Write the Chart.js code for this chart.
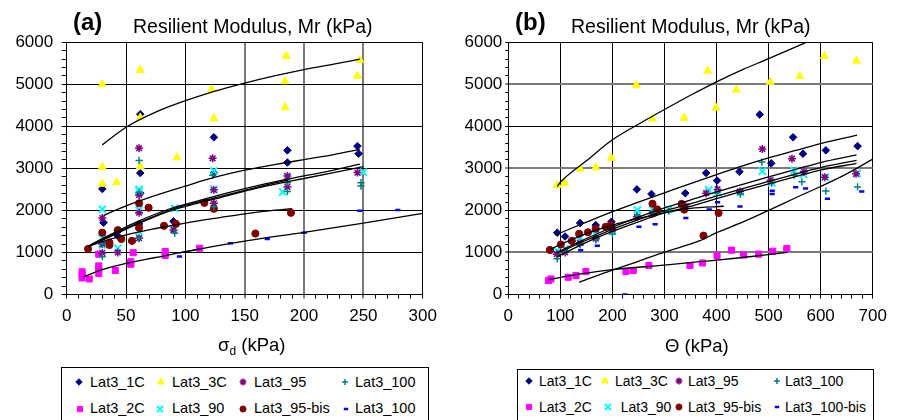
<!DOCTYPE html>
<html><head><meta charset="utf-8">
<script src="https://cdn.jsdelivr.net/npm/chart.js@4/dist/chart.umd.min.js"></script>
<style>
html,body{margin:0;padding:0;background:#fff;width:897px;height:420px;overflow:hidden;font-family:"Liberation Sans",Arial,sans-serif;color:#000}
#wrap{position:relative;width:897px;height:420px}
canvas.c{position:absolute;top:0}
.t{position:absolute;white-space:nowrap;line-height:1}
.lg{position:absolute;border:1px solid #000;background:#fff;box-sizing:border-box}
sub{font-size:12px;vertical-align:-4px;line-height:0}
</style>
</head><body><div id="wrap">
<canvas id="ca" class="c" width="450" height="360" style="left:0"></canvas>
<canvas id="cb" class="c" width="447" height="360" style="left:450px"></canvas>
<div class="t" style="left:73px;top:9.7px;font-size:24px;font-weight:bold">(a)</div>
<div class="t" style="left:133px;top:16.8px;font-size:19.5px">Resilient Modulus, Mr (kPa)</div>
<div class="t" style="left:515px;top:9.7px;font-size:24px;font-weight:bold">(b)</div>
<div class="t" style="left:571px;top:16.8px;font-size:19.5px">Resilient Modulus, Mr (kPa)</div>
<div class="t" style="left:218px;top:336px;font-size:18.5px">σ<sub>d</sub> (kPa)</div>
<div class="t" style="left:665px;top:337px;font-size:18.5px">Θ (kPa)</div>
<div class="lg" id="lga" style="left:61px;top:367px;width:368px;height:70px"></div>
<div class="lg" id="lgb" style="left:517px;top:369px;width:357px;height:70px"></div>
</div>
<script>
// ---------- series names ----------
const namesA = ['Lat3_1C','Lat3_2C','Lat3_3C','Lat3_90','Lat3_95','Lat3_95-bis','Lat3_100','Lat3_100'];
const namesB = ['Lat3_1C','Lat3_2C','Lat3_3C','Lat3_90','Lat3_95','Lat3_95-bis','Lat3_100','Lat3_100-bis'];

// ---------- panel (a): x = sigma_d (kPa), y = Mr (kPa) ----------
const a1C = [[30,2510],[31,1710],[43,1395],[61,1680],[62,4290],[62,2890],[62,2410],[90,1740],[124,3740],[124,2890],[186,3430],[186,3140],[245,3530],[246,3350]];
const a2C = [[13,540],[13,470],[13,395],[19,370],[27,960],[27,680],[27,600],[27,500],[41,570],[54,720],[54,780],[56,995],[83,1020],[83,930],[112,1100]];
const a3C = [[30,5000],[30,3030],[30,2630],[42,2670],[62,5340],[62,4210],[62,3040],[93,3260],[122,4880],[124,4190],[185,5670],[184,5070],[184,4450],[247,5580],[245,5200]];
const a90 = [[30,2030],[30,1340],[30,1180],[43,1100],[61,2500],[61,2460],[61,2010],[61,1500],[90,1560],[91,2050],[124,2940],[124,2500],[182,2440],[186,2800],[250,2910]];
const a95 = [[30,1820],[30,1200],[30,990],[43,1000],[61,3480],[61,2370],[61,1945],[61,1340],[90,1535],[123,3240],[124,2490],[124,2170],[186,2820],[186,2560],[245,2900]];
const a95bis = [[18,1085],[30,1470],[36,1235],[36,1180],[43,1530],[46,1320],[55,1275],[61,2170],[61,1590],[69,2065],[82,1635],[92,1680],[116,2180],[124,2040],[159,1450],[189,1945]];
const a100 = [[30,900],[30,1200],[61,3190],[61,2430],[61,1340],[91,1460],[123,2840],[124,2090],[186,2660],[186,2450],[248,2660],[248,2580]];
const a100b = [[95,905],[138,1220],[169,1320],[200,1470],[247,1990],[279,2010]];
// fitted curves (a)
const aFit1C = [[31,1880],[50,2110],[75,2360],[100,2580],[125,2790],[150,2960],[175,3090],[200,3210],[225,3330],[247,3450]];
const aFit2C = [[14,420],[30,590],[50,740],[75,880],[100,1020],[112,1080]];
const aFit3C = [[30,3560],[50,3980],[75,4340],[100,4610],[125,4840],[150,5030],[175,5200],[200,5350],[225,5480],[247,5600]];
const aFit90 = [[18,1140],[30,1290],[45,1490],[60,1680],[87,1990],[110,2170],[129,2300],[150,2460],[175,2620],[200,2760],[225,2900],[250,3040]];
const aFit95 = [[18,1150],[30,1330],[45,1540],[60,1740],[87,2040],[110,2220],[129,2370],[150,2520],[175,2680],[200,2820],[225,2960],[247,3100]];
const aFit95bis = [[18,1140],[30,1260],[50,1420],[75,1570],[100,1700],[129,1830],[150,1920],[170,1990],[190,2040]];
const aFit100 = [[20,1160],[30,1310],[45,1510],[60,1700],[87,2010],[110,2190],[129,2330],[150,2480],[170,2620],[187,2730]];
const aFit100b = [[95,990],[125,1150],[150,1270],[200,1480],[250,1700],[300,1930]];

// ---------- panel (b): x = Theta (kPa), y = Mr (kPa) ----------
const b1C = [[94,1470],[109,1380],[138,1700],[168,1650],[198,1730],[247,2500],[275,2390],[340,2410],[380,2890],[401,2710],[444,2920],[483,4280],[505,3120],[547,3740],[566,3350],[610,3430],[671,3530]];
const b2C = [[77,330],[82,370],[115,410],[130,450],[149,545],[226,545],[240,570],[270,690],[349,690],[373,750],[401,920],[429,1055],[452,940],[481,960],[508,1030],[535,1095]];
const b3C = [[94,2600],[108,2650],[138,2990],[168,3020],[198,3250],[246,4980],[277,4180],[338,4200],[383,5320],[399,4440],[438,4870],[503,5055],[560,5190],[607,5670],[669,5560]];
const b90 = [[94,1040],[109,1080],[138,1355],[168,1420],[200,1530],[248,2010],[277,2025],[308,2025],[385,2490],[402,2420],[446,2430],[488,2930],[506,2660],[549,2950],[567,2860],[609,2790],[670,2880]];
const b95 = [[93,960],[109,1000],[138,1220],[168,1330],[200,1550],[247,1850],[277,1920],[341,2100],[380,2410],[402,2500],[445,2450],[488,3460],[504,2720],[545,3230],[568,2920],[608,2790],[668,2870]];
const b95bis = [[80,1060],[101,1190],[122,1275],[136,1445],[153,1480],[168,1565],[187,1610],[197,1650],[277,2160],[286,2025],[333,2155],[338,2020],[375,1400],[404,1940]];
const b100 = [[94,850],[109,1040],[138,1180],[168,1300],[200,1440],[248,1880],[277,1950],[308,1980],[401,2420],[446,2390],[487,3150],[506,2650],[549,2840],[564,2680],[610,2460],[671,2560]];
const b100bis = [[139,1050],[171,1160],[224,0],[251,1610],[282,1670],[341,1820],[386,2025],[402,2195],[445,2095],[507,2470],[507,2390],[552,2550],[571,2520],[613,2280],[679,2450]];
// fitted curves (b)
const bFit1C = [[90,1415],[150,1720],[200,1970],[250,2200],[300,2420],[350,2640],[400,2850],[450,3060],[500,3250],[550,3420],[600,3590],[670,3790]];
const bFit2C = [[77,350],[100,410],[150,510],[200,590],[300,700],[368,780],[450,880],[536,1000]];
const bFit3C = [[94,2570],[100,2670],[150,3180],[200,3680],[250,4050],[300,4400],[350,4740],[400,5060],[450,5350],[500,5610],[572,6000]];
const bFit90 = [[94,980],[150,1290],[200,1550],[250,1780],[300,1990],[348,2150],[400,2340],[450,2520],[500,2690],[550,2860],[600,3020],[669,3190]];
const bFit95 = [[93,1000],[150,1330],[200,1600],[250,1840],[300,2060],[348,2240],[400,2440],[450,2620],[500,2800],[550,2970],[600,3140],[669,3320]];
const bFit95bis = [[80,1070],[100,1190],[150,1450],[200,1650],[250,1810],[300,1940],[350,2050],[414,2100]];
const bFit100 = [[94,900],[150,1240],[200,1500],[250,1730],[300,1940],[348,2090],[400,2280],[450,2460],[500,2630],[550,2800],[600,2960],[669,3120]];
const bFit100bis = [[136,290],[200,580],[250,790],[300,1010],[368,1280],[400,1470],[450,1720],[500,2000],[550,2290],[600,2570],[650,2870],[700,3220]];

// axis ticks
const yMax = 6000, yMajor = 1000, yMinor = 200;
const aXMax = 300, aXMajor = 50, aXMinor = 10;
const bXMax = 700, bXMajor = 100, bXMinor = 20;

// ---------- styles ----------
const STY = [
  {ps:'rectRot', r:3.8, c:'#000080', bw:1},
  {ps:'rect', r:4.3, c:'#FF00FF', bw:1},
  {ps:'triangle', r:4.6, c:'#FFFF00', bw:1},
  {ps:'crossRot', r:5, c:'#00FFFF', bw:2},
  {ps:'star', r:4, c:'#800080', bw:1.5},
  {ps:'circle', r:3.6, c:'#800000', bw:1},
  {ps:'cross', r:3.6, c:'#008080', bw:1.5},
  {ps:'line', r:2.6, c:'#0000FF', bw:2.5}
];
const toXY = arr => arr.map(p => ({x:p[0], y:p[1]}));

function pointDS(label, arr, i){
  const s = STY[i];
  return {label, data: toXY(arr), showLine:false, pointStyle:s.ps, pointRadius:s.r, pointHoverRadius:s.r,
    pointBackgroundColor:s.c, pointBorderColor:s.c, pointBorderWidth:s.bw,
    backgroundColor:s.c, borderColor:s.c, order: 8 - i};
}
function fitDS(arr){
  return {label:'', data: toXY(arr), showLine:true, pointRadius:0, pointHoverRadius:0,
    borderColor:'#000', backgroundColor:'#000', borderWidth:1.3, cubicInterpolationMode:'monotone', fill:false, order:0};
}

function makeChart(id, names, pts, fits, xMax, xMajor, xMinor, yW, rightPad, yTickLen, yPad, grayX, grayY){
  const datasets = pts.map((a,i)=>pointDS(names[i], a, i)).concat(fits.map(fitDS));
  const isMajX = v => Math.abs(v % xMajor) < 1e-6;
  const isMajY = v => Math.abs(v % yMajor) < 1e-6;
  return new Chart(document.getElementById(id), {
    type:'scatter',
    data:{datasets},
    options:{
      responsive:false, animation:false, devicePixelRatio:1,
      layout:{padding:{left:0, top:42.3, right:rightPad, bottom:0}},
      plugins:{legend:{display:false}, tooltip:{enabled:false}, title:{display:false}},
      scales:{
        x:{type:'linear', min:0, max:xMax, afterFit:s=>{s.height=65.5;},
          ticks:{stepSize:xMinor, autoSkip:false, maxRotation:0, padding:8, color:'#000',
            font:{family:'"Liberation Sans", Arial, sans-serif', size:17},
            callback:v=> isMajX(v) ? String(v) : ''},
          grid:{drawTicks:true, tickLength:4, tickColor:'#000', tickWidth:1,
            color:c=>{const v=c.tick?c.tick.value:0; if(!isMajX(v)) return 'rgba(0,0,0,0)'; return (grayX.includes(v))?'#7a7a7a':'#000';},
            lineWidth:c=>{const v=c.tick?c.tick.value:0; return grayX.includes(v)?2:1;}},
          border:{display:true, color:'#000', width:1}},
        y:{type:'linear', min:0, max:yMax, afterFit:s=>{s.width=yW;},
          ticks:{stepSize:yMinor, autoSkip:false, padding:yPad, color:'#000',
            font:{family:'"Liberation Sans", Arial, sans-serif', size:17},
            callback:v=> isMajY(v) ? String(v) : ''},
          grid:{drawTicks:true, tickLength:yTickLen, tickColor:'#000', tickWidth:1,
            color:c=>{const v=c.tick?c.tick.value:0; if(!isMajY(v)) return 'rgba(0,0,0,0)'; return (grayY.includes(v))?'#7a7a7a':'#000';},
            lineWidth:c=>{const v=c.tick?c.tick.value:0; return grayY.includes(v)?2:1;}},
          border:{display:true, color:'#000', width:1}}
      }
    }
  });
}

makeChart('ca', namesA, [a1C,a2C,a3C,a90,a95,a95bis,a100,a100b],
  [aFit1C,aFit2C,aFit3C,aFit90,aFit95,aFit95bis,aFit100,aFit100b],
  aXMax, aXMajor, aXMinor, 66.7, 27.3, 5, 8.5, [150,200,250], []);
makeChart('cb', namesB, [b1C,b2C,b3C,b90,b95,b95bis,b100,b100bis],
  [bFit1C,bFit2C,bFit3C,bFit90,bFit95,bFit95bis,bFit100,bFit100bis],
  bXMax, bXMajor, bXMinor, 58.3, 24.3, 3, 3, [], [1000,3000,5000]);

// ---------- legends (HTML) ----------
function drawMarker(cv, i){
  const s = STY[i], ctx = cv.getContext('2d');
  ctx.fillStyle = s.c; ctx.strokeStyle = s.c; ctx.lineWidth = s.bw;
  const r = s.r * 0.85;
  if (Chart.helpers && Chart.helpers.drawPoint){
    Chart.helpers.drawPoint(ctx, {pointStyle:s.ps, radius:r, rotation:0, borderWidth:s.bw}, cv.width/2, cv.height/2);
  } else {
    ctx.beginPath(); ctx.arc(cv.width/2, cv.height/2, r, 0, Math.PI*2); ctx.fill();
  }
}
// item order in legend grid: [seriesIndex, row, markerX, textX] (page coords)
const legA = [[0,0,79,90],[2,0,161,172],[4,0,243,254],[6,0,344.5,355],[1,1,80,90],[3,1,160,172],[5,1,243,254],[7,1,346,355]];
const legB = [[0,0,529,539],[2,0,605,615],[4,0,679,688],[6,0,776.5,785],[1,1,529,539],[3,1,607.5,620.7],[5,1,679,688],[7,1,777,785]];
function buildLegend(boxId, names, items, boxLeft, boxTop, rows, fs){
  const box = document.getElementById(boxId);
  items.forEach(([si,row,mx,tx])=>{
    const ry = rows[row];
    const cv = document.createElement('canvas'); cv.width=14; cv.height=14;
    cv.style.position='absolute'; cv.style.left=(mx-7-boxLeft-1)+'px'; cv.style.top=(ry-7-boxTop-1)+'px';
    box.appendChild(cv); drawMarker(cv, si);
    const sp = document.createElement('div'); sp.className='t'; sp.textContent = names[si];
    sp.style.fontSize = fs+'px'; sp.style.left=(tx-boxLeft-1)+'px'; sp.style.top=(ry-0.49*fs-boxTop-1)+'px';
    box.appendChild(sp);
  });
}
buildLegend('lga', namesA, legA, 61, 367, [382,408.5], 14.5);
buildLegend('lgb', namesB, legB, 517, 369, [381,407], 14);
</script>
</body></html>
